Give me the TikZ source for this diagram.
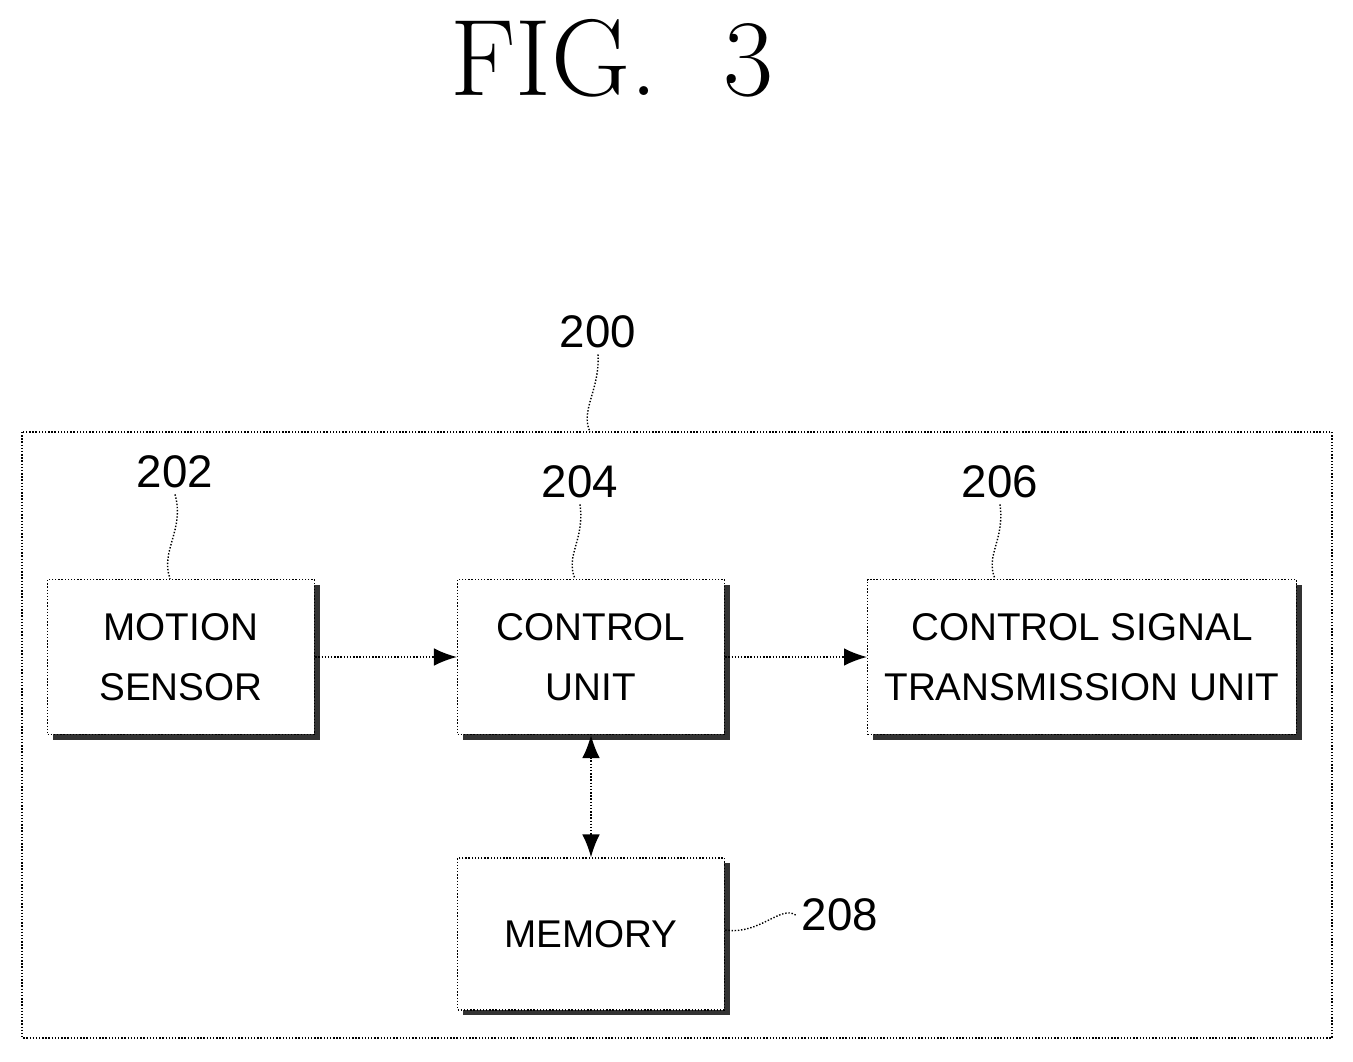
\documentclass[tikz,border=0pt]{standalone}
\usepackage{fontspec}
\setsansfont{Liberation Sans}
\usetikzlibrary{arrows.meta,positioning,shadows}
\begin{document}
\begin{tikzpicture}[x=0.02cm,y=-0.02cm,
    >={Latex[length=13pt,width=10pt]},
    block/.style={draw,densely dotted,thick,fill=white,minimum height=3.1cm,align=center,
      inner sep=2pt,font=\sffamily\fontsize{22}{34}\selectfont,
      drop shadow={shadow xshift=3pt,shadow yshift=-3pt,fill=black,opacity=0.8}},
    lead/.style={densely dotted,thick},
    num/.style={font=\sffamily\fontsize{26}{30}\selectfont}]
  \useasboundingbox (0,0) rectangle (1353,1062);
  \node[font=\rmfamily\fontsize{62}{70}\selectfont] (title) at (612,58) {FIG.\ \ 3};
  % outer box
  \draw[densely dotted,thick] (22,432) rectangle (1332,1038);
  \node[block,minimum width=5.34cm] (sensor) at (181,657) {MOTION\\SENSOR};
  \node[block,minimum width=5.34cm] (ctrl) at (591,657) {CONTROL\\UNIT};
  \node[block,minimum width=8.58cm] (tx) at (1082,657) {CONTROL SIGNAL\\TRANSMISSION UNIT};
  \node[block,minimum width=5.34cm,minimum height=3.04cm] (mem) at (591,934) {MEMORY};
  % reference numerals
  \node[num] (n200) at (598,332) {200};
  \node[num] (n202) at (175,472) {202};
  \node[num] (n204) at (580,482) {204};
  \node[num] (n206) at (1000,482) {206};
  \node[num] (n208) at (840,915) {208};
  \coordinate (c200) at (590,432);
  \draw[lead] (n200.south) .. controls (600,390) and (580,410) .. (c200);
  \draw[lead] (n202.south) .. controls (185,530) and (160,550) .. (sensor.north -| 170,0);
  \draw[lead] (n204.south) .. controls (585,540) and (565,555) .. (ctrl.north -| 575,0);
  \draw[lead] (n206.south) .. controls (1005,540) and (985,555) .. (tx.north -| 995,0);
  \draw[lead] (n208.west) .. controls (780,905) and (760,935) .. (mem.east |- 0,930);
  % signal flow
  \draw[->,lead] (sensor) -- (ctrl);
  \draw[->,lead] (ctrl) -- (tx);
  \draw[<->,lead] (ctrl) -- (mem);
\end{tikzpicture}
\end{document}
